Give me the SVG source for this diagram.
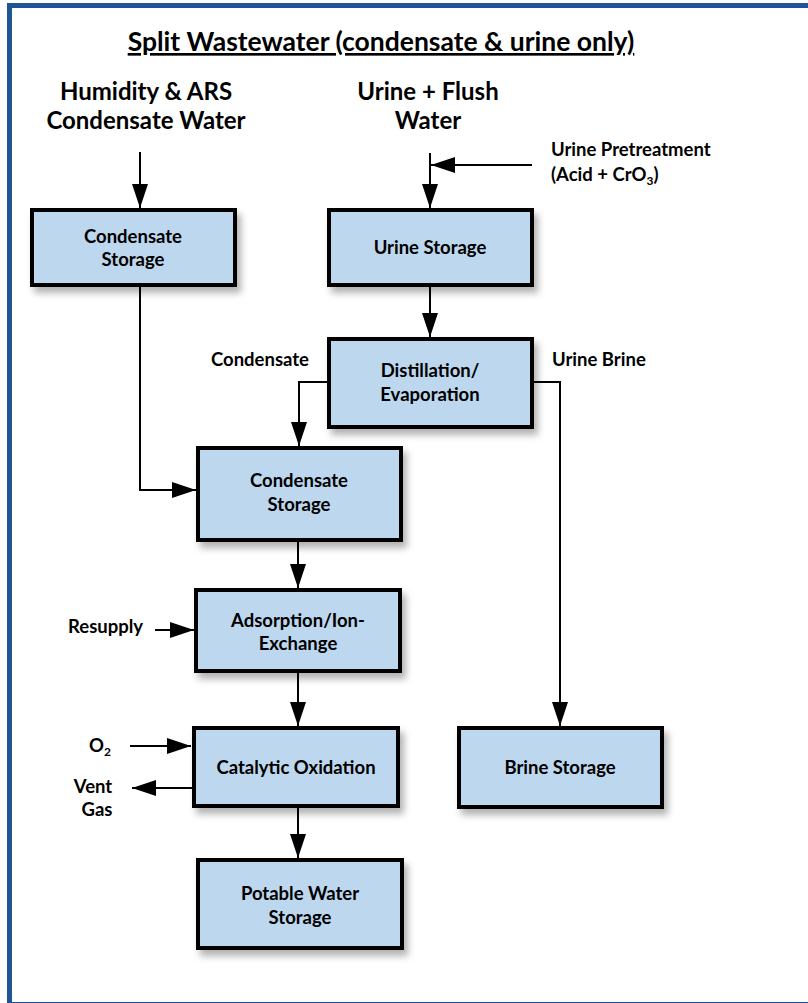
<svg xmlns="http://www.w3.org/2000/svg" width="808" height="1003" viewBox="0 0 808 1003">
<style>
text{font-family:Lato,"Liberation Sans",sans-serif;font-weight:bold;fill:#000}
.box{fill:#BDD7EE;stroke:#000;stroke-width:4}
.bt{font-size:18.5px;text-anchor:middle}
.lbl{font-size:18.5px}
.hd{font-size:24px;text-anchor:middle}
.ln{fill:none;stroke:#000;stroke-width:2}
</style>
<defs>
<marker id="ah" markerUnits="userSpaceOnUse" markerWidth="24" markerHeight="16" refX="24" refY="8" orient="auto">
<path d="M0,0 L24,8 L0,16 z" fill="#000"/>
</marker>
<filter id="sh" x="-10%" y="-10%" width="130%" height="140%">
<feDropShadow dx="4" dy="6" stdDeviation="3.5" flood-color="#000" flood-opacity="0.3"/>
</filter>
</defs>
<rect width="808" height="1003" fill="#fff"/>
<rect x="9.5" y="5.5" width="820" height="999" fill="none" stroke="#1F5596" stroke-width="5"/>

<g id="title">
<text x="381" y="51" font-size="26.5" text-anchor="middle" text-decoration="underline">Split Wastewater (condensate &amp; urine only)</text>
</g>
<g id="src-humidity">
<text class="hd" x="146" y="100">Humidity &amp; ARS</text>
<text class="hd" x="146" y="129">Condensate Water</text>
</g>
<g id="src-urine">
<text class="hd" x="428" y="100">Urine + Flush</text>
<text class="hd" x="428" y="129">Water</text>
</g>
<g id="lbl-pretreat">
<text class="lbl" x="551" y="156">Urine Pretreatment</text>
<text class="lbl" x="551" y="181">(Acid + CrO<tspan font-size="12" dy="4">3</tspan><tspan dy="-4">)</tspan></text>
</g>
<g id="lbl-condensate"><text class="lbl" x="211" y="366">Condensate</text></g>
<g id="lbl-brine"><text class="lbl" x="552" y="366">Urine Brine</text></g>
<g id="lbl-resupply"><text class="lbl" x="68" y="633">Resupply</text></g>
<g id="lbl-o2"><text class="lbl" x="89" y="752">O<tspan font-size="12" dy="4">2</tspan></text></g>
<g id="lbl-vent">
<text class="lbl" x="93" y="793" text-anchor="middle">Vent</text>
<text class="lbl" x="97" y="816" text-anchor="middle">Gas</text>
</g>

<g id="connectors">
<path class="ln" d="M140,152 V208" marker-end="url(#ah)"/>
<path class="ln" d="M532,165 H431" marker-end="url(#ah)"/>
<path class="ln" d="M430,153 V208" marker-end="url(#ah)"/>
<path class="ln" d="M430,285 V337" marker-end="url(#ah)"/>
<path class="ln" d="M328,382 H299 V446" marker-end="url(#ah)"/>
<path class="ln" d="M532,382 H560 V726" marker-end="url(#ah)"/>
<path class="ln" d="M140,285 V490 H196" marker-end="url(#ah)"/>
<path class="ln" d="M298,540 V588" marker-end="url(#ah)"/>
<path class="ln" d="M155,630 H194" marker-end="url(#ah)"/>
<path class="ln" d="M298,671 V726" marker-end="url(#ah)"/>
<path class="ln" d="M130,746 H191" marker-end="url(#ah)"/>
<path class="ln" d="M193,788 H132" marker-end="url(#ah)"/>
<path class="ln" d="M298,806 V858" marker-end="url(#ah)"/>
</g>

<g id="condensate-storage-1">
<rect class="box" x="32" y="210" width="203" height="75" filter="url(#sh)"/>
<text class="bt" x="133" y="243">Condensate</text>
<text class="bt" x="133" y="266">Storage</text>
</g>
<g id="urine-storage">
<rect class="box" x="329" y="210" width="203" height="75" filter="url(#sh)"/>
<text class="bt" x="430" y="254">Urine Storage</text>
</g>
<g id="distillation">
<rect class="box" x="329" y="339" width="203" height="88" filter="url(#sh)"/>
<text class="bt" x="430" y="377">Distillation/</text>
<text class="bt" x="430" y="401">Evaporation</text>
</g>
<g id="condensate-storage-2">
<rect class="box" x="198" y="448" width="203" height="92" filter="url(#sh)"/>
<text class="bt" x="299" y="487">Condensate</text>
<text class="bt" x="299" y="511">Storage</text>
</g>
<g id="adsorption">
<rect class="box" x="196" y="590" width="204" height="81" filter="url(#sh)"/>
<text class="bt" x="298" y="627">Adsorption/Ion-</text>
<text class="bt" x="298" y="650">Exchange</text>
</g>
<g id="catalytic">
<rect class="box" x="194" y="728" width="204" height="78" filter="url(#sh)"/>
<text class="bt" x="296" y="774">Catalytic Oxidation</text>
</g>
<g id="brine-storage">
<rect class="box" x="459" y="728" width="203" height="79" filter="url(#sh)"/>
<text class="bt" x="560" y="774">Brine Storage</text>
</g>
<g id="potable">
<rect class="box" x="198" y="860" width="204" height="88" filter="url(#sh)"/>
<text class="bt" x="300" y="900">Potable Water</text>
<text class="bt" x="300" y="924">Storage</text>
</g>
</svg>
